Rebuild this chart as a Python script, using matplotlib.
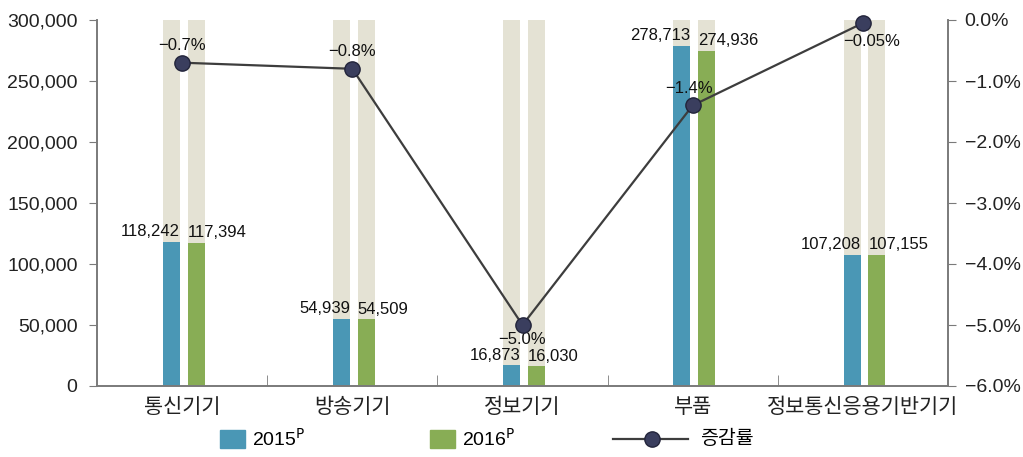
import numpy as np
import matplotlib
matplotlib.use('Agg')
import matplotlib.pyplot as plt
from matplotlib.patches import Rectangle
from matplotlib.lines import Line2D
from matplotlib.ticker import FuncFormatter

plt.rcParams['font.family'] = ['Liberation Sans', 'Noto Sans CJK KR', 'DejaVu Sans']
plt.rcParams['axes.unicode_minus'] = True

categories = ['통신기기', '방송기기', '정보기기', '부품', '정보통신응용기반기기']
values_2015 = [118242, 54939, 16873, 278713, 107208]
values_2016 = [117394, 54509, 16030, 274936, 107155]
rate = [-0.7, -0.8, -5.0, -1.4, -0.05]
rate_labels = ['−0.7%', '−0.8%', '−5.0%', '−1.4%', '−0.05%']
# label placement for the rate text (points): above or below marker
rate_offsets = [(0, 7), (0, 7), (0, -5), (-3, 7), (6, -8)]

blue = '#4a97b5'
green = '#88ad55'
beige = '#e4e2d4'
line_col = '#3d3d3d'
marker_col = '#3a3e5e'
spine_col = '#7a7a7a'

fig = plt.figure(figsize=(10.23, 4.57), dpi=100)
ax = fig.add_axes([97 / 1023, 1 - 386 / 457, (948 - 97) / 1023, 366 / 457])
ax2 = ax.twinx()

x = np.arange(len(categories))
w = 0.1
off_b, off_g = -0.063, 0.082

ymax = 300000
ax.bar(x + off_b, [ymax] * len(x), w, color=beige, zorder=1)
ax.bar(x + off_g, [ymax] * len(x), w, color=beige, zorder=1)
ax.bar(x + off_b, values_2015, w, color=blue, zorder=2)
ax.bar(x + off_g, values_2016, w, color=green, zorder=2)

for i in range(len(x)):
    ax.annotate(f'{values_2015[i]:,}', (x[i] + off_b + w / 2, values_2015[i]),
                xytext=(0, 2), textcoords='offset points', ha='right', va='bottom',
                fontsize=12, color='#111111', zorder=5)
    ax.annotate(f'{values_2016[i]:,}', (x[i] + off_g - w / 2, values_2016[i]),
                xytext=(0, 2), textcoords='offset points', ha='left', va='bottom',
                fontsize=12, color='#111111', zorder=5)

ax.set_xlim(-0.5, len(x) - 0.5)
ax.set_ylim(0, ymax)
ax.set_yticks(np.arange(0, ymax + 1, 50000))
ax.yaxis.set_major_formatter(FuncFormatter(lambda v, p: f'{int(v):,}'))
ax.tick_params(axis='y', direction='out', length=6, color=spine_col, labelsize=14,
               labelcolor='#222222', pad=8)
ax.set_xticks(x)
ax.set_xticklabels(categories, fontsize=15, family=['Noto Sans CJK KR', 'DejaVu Sans'])
ax.tick_params(axis='x', length=0, pad=7, labelcolor='#222222')
ax.set_xticks(x[:-1] + 0.5, minor=True)
ax.tick_params(axis='x', which='minor', direction='in', length=8, color=spine_col)

ax2.plot(x, rate, color=line_col, lw=1.6, marker='o', ms=11, clip_on=False,
         markerfacecolor=marker_col, markeredgecolor='#22243a', markeredgewidth=1, zorder=4)
for i in range(len(x)):
    dx, dy = rate_offsets[i]
    ax2.annotate(rate_labels[i], (x[i], rate[i]), xytext=(dx, dy), textcoords='offset points',
                 ha='center', va='bottom' if dy > 0 else 'top', fontsize=12, color='#111111')
ax2.set_ylim(-6, 0)
ax2.set_yticks(np.arange(-6, 0.1, 1))
ax2.yaxis.set_major_formatter(FuncFormatter(lambda v, p: f'{v:.1f}%'.replace('-', '−')))
ax2.tick_params(axis='y', direction='out', length=6, color=spine_col, labelsize=14,
                labelcolor='#222222', pad=6)

for a in (ax, ax2):
    a.spines['top'].set_visible(False)
    for s in ('left', 'right', 'bottom'):
        a.spines[s].set_color(spine_col)
        a.spines[s].set_linewidth(1.2)

# legend row
ly = 1 - 439 / 457
fig.patches.append(Rectangle((220 / 1023, ly - 9 / 457), 25 / 1023, 18 / 457,
                             transform=fig.transFigure, color=blue))
fig.text(252 / 1023, ly, '2015$^{\\mathrm{P}}$', fontsize=14, va='center')
fig.patches.append(Rectangle((430 / 1023, ly - 9 / 457), 25 / 1023, 18 / 457,
                             transform=fig.transFigure, color=green))
fig.text(462 / 1023, ly, '2016$^{\\mathrm{P}}$', fontsize=14, va='center')
fig.lines.append(Line2D([613 / 1023, 688 / 1023], [ly, ly], transform=fig.transFigure,
                        color=line_col, lw=1.6))
fig.lines.append(Line2D([652 / 1023], [ly], transform=fig.transFigure, marker='o', ms=11,
                        markerfacecolor=marker_col, markeredgecolor='#22243a', color=line_col))
fig.text(700 / 1023, ly, '증감률', fontsize=14, va='center',
         family=['Noto Sans CJK KR', 'DejaVu Sans'])

fig.savefig('out.png', dpi=100)
